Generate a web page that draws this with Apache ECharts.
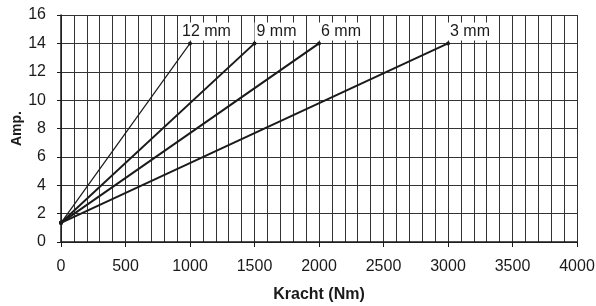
<!DOCTYPE html>
<html>
<head>
<meta charset="utf-8">
<script src="https://cdn.jsdelivr.net/npm/echarts@6/dist/echarts.min.js"></script>
<style>
  html, body { margin: 0; padding: 0; background: #fff; }
  #chart { width: 596px; height: 306px; }
</style>
</head>
<body>
<div id="chart"></div>
<script>
// line names and end points (Kracht in Nm, Amp.)
const seriesNames = ["12 mm", "9 mm", "6 mm", "3 mm"];
const startKracht = 0;
const startAmp = 1.35;
const endKracht = [1000, 1500, 2000, 3000];
const endAmp = [14, 14, 14, 14];
const xTicks = [0, 500, 1000, 1500, 2000, 2500, 3000, 3500, 4000];
const yTicks = [0, 2, 4, 6, 8, 10, 12, 14, 16];

const font = "Liberation Sans, Arial, sans-serif";
const lineWidths = [1.2, 2, 2, 2];
const labelDx = [-8, 2, 2, 2];

const chart = echarts.init(document.getElementById("chart"), null, { renderer: "canvas" });

const series = seriesNames.map(function (name, i) {
  return {
    name: name,
    type: "line",
    data: [
      [startKracht, startAmp],
      { value: [endKracht[i], endAmp[i]], label: { show: true } },
    ],
    symbol: "circle",
    symbolSize: 4,
    lineStyle: { color: "#1a1a1a", width: lineWidths[i] },
    itemStyle: { color: "#1a1a1a" },
    label: {
      show: false,
      formatter: name,
      position: [labelDx[i], -10],
      align: "left",
      verticalAlign: "middle",
      fontFamily: font,
      fontSize: 16,
      color: "#1a1a1a",
      backgroundColor: "#fff",
      padding: [1, 2, 1, 2],
    },
    z: 3,
  };
});

const option = {
  animation: false,
  grid: { left: 61, right: 19, top: 15, bottom: 64, outerBoundsMode: "none", containLabel: false },
  xAxis: {
    type: "value",
    min: xTicks[0],
    max: xTicks[xTicks.length - 1],
    interval: 500,
    name: "Kracht (Nm)",
    nameLocation: "middle",
    nameGap: 45,
    nameTextStyle: { fontFamily: font, fontSize: 16, fontWeight: "bold", color: "#1a1a1a" },
    axisLine: { show: true, onZero: false, lineStyle: { color: "#1a1a1a", width: 1.5 } },
    axisTick: { show: true, length: 5, lineStyle: { color: "#1a1a1a" } },
    axisLabel: {
      margin: 17, fontFamily: font, fontSize: 16, color: "#1a1a1a",
      formatter: function (v) { return xTicks.indexOf(v) >= 0 ? String(v) : ""; },
    },
    splitLine: { show: true, lineStyle: { color: "#333", width: 1 } },
    minorTick: { show: false, splitNumber: 5 },
    minorSplitLine: { show: true, lineStyle: { color: "#333", width: 1 } },
  },
  yAxis: {
    type: "value",
    min: yTicks[0],
    max: yTicks[yTicks.length - 1],
    interval: 2,
    name: "Amp.",
    nameLocation: "middle",
    nameGap: 37,
    nameRotate: 90,
    nameMoveOverlap: false,
    nameTextStyle: { fontFamily: font, fontSize: 14, fontWeight: "bold", color: "#1a1a1a" },
    axisLine: { show: true, lineStyle: { color: "#1a1a1a", width: 1.5 } },
    axisTick: { show: true, length: 4, lineStyle: { color: "#1a1a1a" } },
    axisLabel: { margin: 15, fontFamily: font, fontSize: 16, color: "#1a1a1a" },
    splitLine: { show: true, lineStyle: { color: "#333", width: 1 } },
  },
  series: series,
};

chart.setOption(option);
</script>
</body>
</html>
